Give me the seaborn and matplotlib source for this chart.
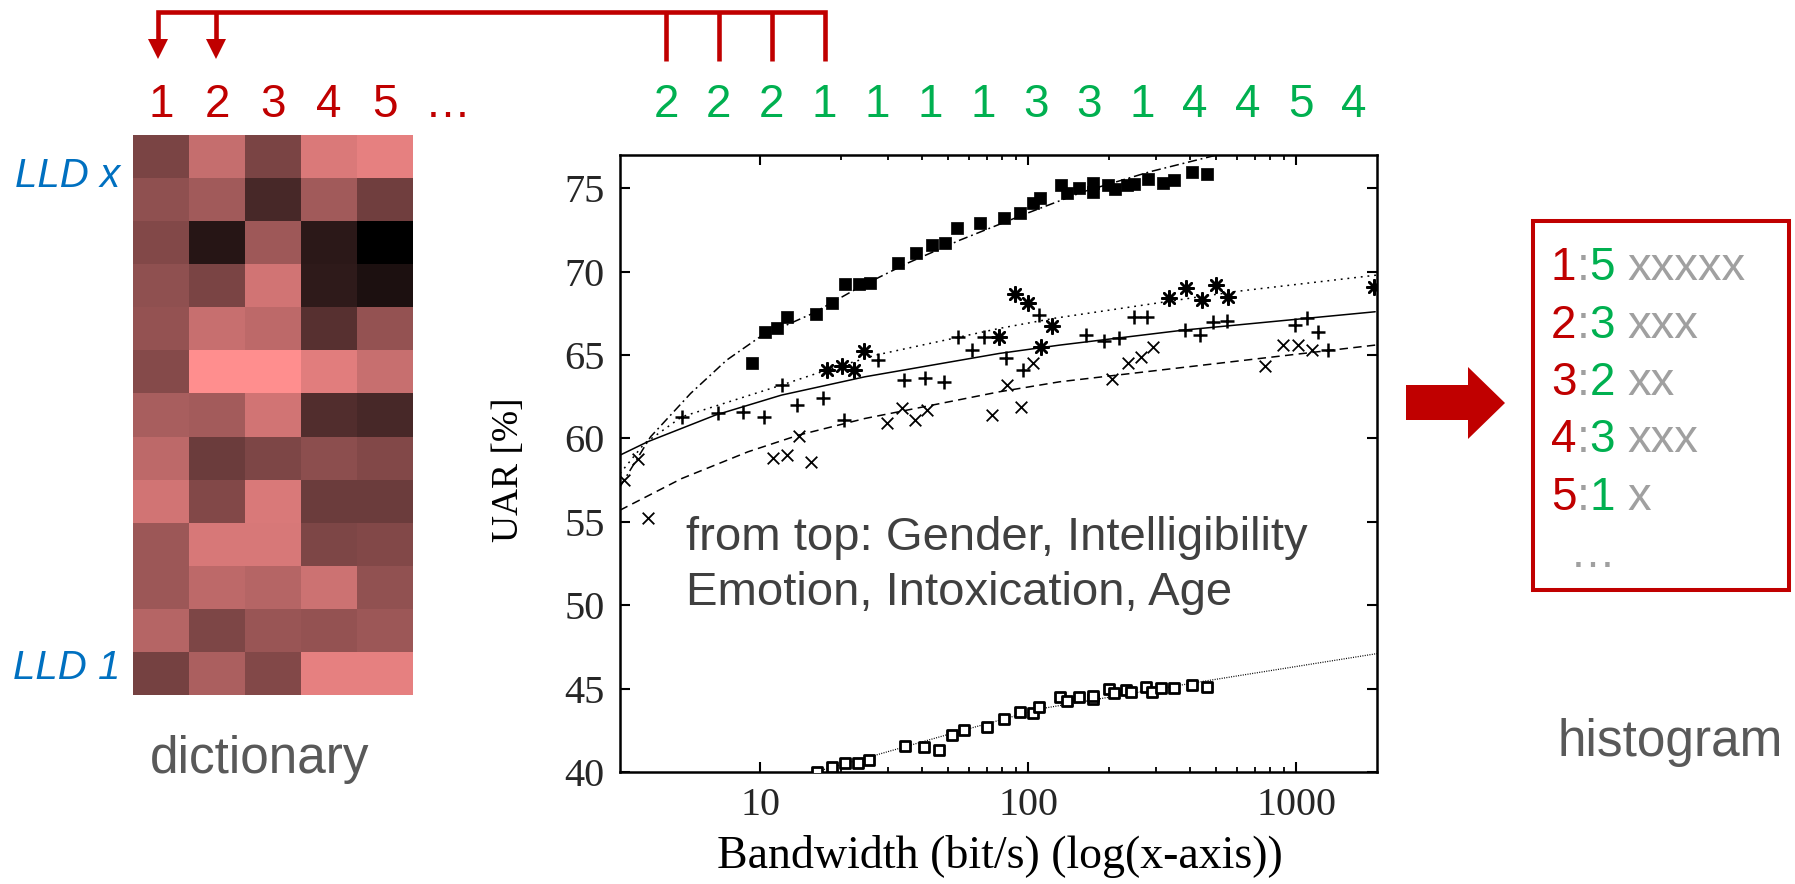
import matplotlib
matplotlib.use("Agg")
import matplotlib.pyplot as plt
import seaborn as sns
import numpy as np
from collections import Counter
from matplotlib.colors import LinearSegmentedColormap
from matplotlib.patches import Polygon, Rectangle
from matplotlib.ticker import FixedLocator, NullFormatter

# ---------------- data ----------------
# dictionary (13 LLD rows x 5 codewords), brightness 0..1
dictionary_values = [
    [0.48, 0.77, 0.48, 0.855, 0.90],
    [0.56, 0.63, 0.28, 0.63, 0.44],
    [0.51, 0.15, 0.62, 0.17, 0.00],
    [0.56, 0.48, 0.82, 0.18, 0.11],
    [0.58, 0.78, 0.74, 0.34, 0.58],
    [0.52, 1.00, 1.00, 0.88, 0.78],
    [0.66, 0.64, 0.82, 0.32, 0.28],
    [0.74, 0.42, 0.49, 0.55, 0.51],
    [0.82, 0.51, 0.85, 0.42, 0.42],
    [0.61, 0.84, 0.84, 0.49, 0.51],
    [0.61, 0.74, 0.71, 0.80, 0.57],
    [0.71, 0.49, 0.60, 0.58, 0.61],
    [0.46, 0.67, 0.51, 0.90, 0.90],
]
dict_labels = ["1", "2", "3", "4", "5", "…"]
code_sequence = [2, 2, 2, 1, 1, 1, 1, 3, 3, 1, 4, 4, 5, 4]
histogram_bins = [1, 2, 3, 4, 5]

gender_x = [9.3, 10.4, 11.6, 12.6, 16.1, 18.5, 20.7, 23.3, 25.6, 32.6, 38.2, 43.7, 49, 54.2, 65.9,
            81.5, 92.9, 104.2, 111, 132.5, 139.6, 155.3, 174.7, 174.7, 198, 210, 233, 248, 280,
            317, 350, 408, 466]
gender_y = [64.5, 66.4, 66.6, 67.3, 67.45, 68.1, 69.25, 69.25, 69.3, 70.5, 71.1, 71.6, 71.7, 72.65,
            72.95, 73.25, 73.55, 74.15, 74.4, 75.2, 74.7, 75.05, 75.35, 74.8, 75.2, 74.95, 75.2,
            75.25, 75.55, 75.35, 75.5, 76.0, 75.85]
gender_fit_x = [3.0, 3.9, 5.5, 7.5, 10, 15.7, 23.6, 35.3, 55.7, 98.8, 160.7, 285, 535]
gender_fit_y = [57.1, 60.1, 62.7, 64.7, 66.1, 67.5, 69.1, 70.5, 71.9, 73.5, 74.8, 76.0, 77.1]

intel_x = [17.7, 20.2, 22.3, 24.4, 78.0, 89.3, 100.2, 111.7, 123, 334, 388, 444, 502, 558, 1950]
intel_y = [64.12, 64.36, 64.12, 65.27, 66.11, 68.67, 68.15, 65.51, 66.75, 68.41, 69.05, 68.31,
           69.18, 68.51, 69.11]
intel_fit_x = [3.0, 3.7, 5.1, 12, 17.7, 27, 78, 124, 584, 2000]
intel_fit_y = [57.9, 59.7, 61.3, 63.2, 64.1, 65.0, 66.6, 67.2, 68.8, 69.8]

emotion_x = [5.1, 6.98, 8.65, 10.34, 12.04, 13.69, 17.1, 20.6, 27.4, 34.4, 41.2, 48.3, 54.9, 61.5,
             68.5, 82.7, 96, 110, 164, 192, 219, 247, 277, 385, 438, 491, 551, 990, 1094, 1210, 1318]
emotion_y = [61.31, 61.55, 61.61, 61.31, 63.22, 62.02, 62.42, 61.12, 64.72, 63.52, 63.62, 63.41,
             66.11, 65.32, 66.11, 64.82, 64.12, 67.41, 66.2, 65.86, 66.0, 67.31, 67.31, 66.51,
             66.2, 66.96, 67.02, 66.81, 67.21, 66.41, 65.32]
emotion_fit_x = [3.0, 3.8, 6.8, 12, 24.6, 78, 131, 380, 1969]
emotion_fit_y = [59.0, 59.8, 61.4, 62.6, 63.7, 65.1, 65.6, 66.5, 67.6]

intox_x = [3.11, 3.49, 3.81, 11.2, 12.6, 13.9, 15.5, 29.7, 33.7, 37.8, 41.8, 73.2, 83.1, 93.8,
           103.9, 205, 235, 263, 293, 765, 891, 1014, 1143]
intox_y = [57.52, 58.76, 55.22, 58.82, 59.02, 60.12, 58.56, 60.92, 61.82, 61.12, 61.72, 61.42,
           63.22, 61.91, 64.55, 63.56, 64.55, 64.91, 65.51, 64.36, 65.62, 65.62, 65.32]
intox_fit_x = [3.0, 5.1, 9.0, 13.9, 24.6, 78, 131, 733, 1969]
intox_fit_y = [55.7, 57.6, 59.2, 60.2, 61.2, 62.8, 63.4, 64.8, 65.6]

age_x = [16.3, 18.5, 20.8, 23.2, 25.5, 34.6, 40.8, 46.6, 52.1, 57.6, 70.2, 80.9, 93.2, 103.8,
         109.9, 131, 139, 155, 174, 175, 200, 209, 231, 242, 275, 289, 314, 349, 407, 463]
age_y = [40.02, 40.32, 40.52, 40.52, 40.72, 41.56, 41.52, 41.32, 42.22, 42.52, 42.72, 43.18,
         43.62, 43.52, 43.92, 44.48, 44.26, 44.52, 44.38, 44.56, 44.98, 44.72, 44.92, 44.82,
         45.08, 44.78, 45.06, 45.06, 45.22, 45.08]
age_fit_x = [16, 25.5, 51.5, 112, 435, 2000]
age_fit_y = [40.0, 40.9, 42.3, 43.8, 45.4, 47.1]

xtick_vals = [10, 100, 1000]
xtick_labels = ["10", "100", "1000"]
xminor_vals = [20, 30, 40, 50, 60, 70, 80, 90, 200, 300, 400, 500, 600, 700, 800, 900]
ytick_vals = [40, 45, 50, 55, 60, 65, 70, 75]

# ---------------- style ----------------
sns.set_style("white")
plt.rcParams['font.family'] = ['Liberation Sans', 'DejaVu Sans']

RED = "#C00000"
GREEN = "#00B050"
BLUE = "#0070C0"
GRAY = "#A0A0A0"
DGRAY = "#595959"
SERIF = ["Liberation Serif", "DejaVu Serif"]

W, H = 1795, 884
fig = plt.figure(figsize=(W / 100, H / 100), dpi=100)


def fr(x0, y0, x1, y1):
    return [x0 / W, 1 - y1 / H, (x1 - x0) / W, (y1 - y0) / H]


# ---------------- dictionary heatmap ----------------
axh = fig.add_axes(fr(133, 135, 413, 695))
cmap = LinearSegmentedColormap.from_list("dict", ["#000000", "#FF8E8E"])
sns.heatmap(np.array(dictionary_values), cmap=cmap, vmin=0, vmax=1, cbar=False,
            xticklabels=False, yticklabels=False, linewidths=0, ax=axh)
axh.tick_params(which="both", length=0)

# ---------------- main chart ----------------
ax = fig.add_axes(fr(620, 155, 1377, 772))
ax.set_xscale("log")
ax.set_xlim(3, 2000)
ax.set_ylim(40, 77)

fit_lw = 1.1
sns.lineplot(x=gender_fit_x, y=gender_fit_y, ax=ax, color="k", lw=fit_lw, sort=False,
             estimator=None, linestyle=(0, (6, 2.5, 1.2, 2.5)), zorder=2)
sns.lineplot(x=intel_fit_x, y=intel_fit_y, ax=ax, color="k", lw=fit_lw, sort=False,
             estimator=None, linestyle=(0, (1.2, 3.2)), zorder=2)
sns.lineplot(x=emotion_fit_x, y=emotion_fit_y, ax=ax, color="k", lw=fit_lw, sort=False,
             estimator=None, linestyle="-", zorder=2)
sns.lineplot(x=intox_fit_x, y=intox_fit_y, ax=ax, color="k", lw=fit_lw, sort=False,
             estimator=None, linestyle=(0, (5.5, 3.5)), zorder=2)
sns.lineplot(x=age_fit_x, y=age_fit_y, ax=ax, color="k", lw=0.9, sort=False,
             estimator=None, linestyle=(0, (0.8, 1.1)), zorder=2)

sns.scatterplot(x=gender_x, y=gender_y, ax=ax, marker="s", color="k", edgecolor="k",
                s=85, linewidth=0.5, zorder=3)
sns.scatterplot(x=intel_x, y=intel_y, ax=ax, marker=(8, 2, 0), color="k",
                s=110, linewidth=1.8, zorder=3)
sns.scatterplot(x=emotion_x, y=emotion_y, ax=ax, marker="+", color="k",
                s=95, linewidth=1.8, zorder=3)
sns.scatterplot(x=intox_x, y=intox_y, ax=ax, marker="x", color="k",
                s=70, linewidth=1.3, zorder=3)
sns.scatterplot(x=age_x, y=age_y, ax=ax, marker="s", facecolor="white", edgecolor="k",
                s=60, linewidth=2.0, zorder=3)

ax.set_xticks(xtick_vals, labels=xtick_labels)
ax.xaxis.set_minor_locator(FixedLocator(xminor_vals))
ax.xaxis.set_minor_formatter(NullFormatter())
ax.set_yticks(ytick_vals, labels=[str(v) for v in ytick_vals])
ax.yaxis.set_minor_locator(FixedLocator([]))
ax.tick_params(which="both", direction="in", top=True, right=True, bottom=True, left=True,
               color="k")
ax.tick_params(which="major", length=7.5, width=1.5, labelsize=29, pad=11)
ax.tick_params(which="minor", length=3.8, width=1.3)
for lbl in ax.get_xticklabels() + ax.get_yticklabels():
    lbl.set_fontfamily(SERIF)
for sp in ax.spines.values():
    sp.set_linewidth(1.8)
    sp.set_color("k")
ax.set_xlabel("")
ax.set_ylabel("")

# ---------------- overlay in pixel coordinates ----------------
ov = fig.add_axes([0, 0, 1, 1], zorder=10)
ov.set_xlim(0, W)
ov.set_ylim(H, 0)
ov.axis("off")
ov.patch.set_alpha(0)

# axis titles
ov.text(509, 470, "UAR [%]", rotation=90, ha="center", va="center", fontsize=27,
        family=SERIF, color="k")
ov.text(1000, 857, "Bandwidth (bit/s) (log(x-axis))", ha="center", va="center",
        fontsize=33, family=SERIF, color="k")

# in-plot annotation
ov.text(686, 550, "from top: Gender, Intelligibility", fontsize=34, color="#404040",
        va="baseline", ha="left")
ov.text(686, 605, "Emotion, Intoxication, Age", fontsize=34, color="#404040",
        va="baseline", ha="left")

# dictionary labels
col_x = [161 + 56 * i for i in range(5)] + [448]
for lab, x in zip(dict_labels, col_x):
    ov.text(x, 117, lab, color=RED, fontsize=33, ha="center", va="baseline")
ov.text(120, 187, "LLD x", color=BLUE, fontsize=29, style="italic", ha="right", va="baseline")
ov.text(120, 679, "LLD 1", color=BLUE, fontsize=29, style="italic", ha="right", va="baseline")
ov.text(260, 773, "dictionary", color=DGRAY, fontsize=37, ha="center", va="baseline")
ov.text(1670, 756, "histogram", color=DGRAY, fontsize=37, ha="center", va="baseline")

# code sequence (green)
seq_x = [666 + 52.9 * i for i in range(len(code_sequence))]
for c, x in zip(code_sequence, seq_x):
    ov.text(x, 117, str(c), color=GREEN, fontsize=33, ha="center", va="baseline")

# bracket with arrows
blw = 3.3
ov.plot([158, 158, seq_x[3], seq_x[3]], [42, 12, 12, 61], color=RED, lw=blw,
        solid_joinstyle="miter", solid_capstyle="butt")
ov.plot([216, 216], [12, 42], color=RED, lw=blw, solid_capstyle="butt")
for x in seq_x[:3]:
    ov.plot([x, x], [12, 61], color=RED, lw=blw, solid_capstyle="butt")
for x in (158, 216):
    ov.add_patch(Polygon([(x - 10, 39), (x + 10, 39), (x, 59)], closed=True, color=RED, lw=0))

# block arrow
ov.add_patch(Polygon([(1406, 385), (1468, 385), (1468, 367), (1505, 403), (1468, 439),
                      (1468, 420), (1406, 420)], closed=True, color=RED, lw=0))

# histogram box
ov.add_patch(Rectangle((1533, 221), 256, 369, fill=False, edgecolor=RED, lw=2.9))
counts = Counter(code_sequence)
for i, b in enumerate(histogram_bins):
    yb = 280 + 57.5 * i
    n = counts[b]
    t = ov.text(1551, yb, str(b), color=RED, fontsize=33, ha="left", va="baseline")
    t = ov.annotate(":", xy=(1, 0), xycoords=t, color=GRAY, fontsize=33, ha="left", va="bottom")
    t = ov.annotate(str(n), xy=(1, 0), xycoords=t, color=GREEN, fontsize=33, ha="left",
                    va="bottom")
    ov.annotate("x" * n, xy=(1, 0), xycoords=t, xytext=(9, 0), textcoords="offset points",
                color=GRAY, fontsize=34, ha="left", va="bottom")
ov.text(1570, 567, "…", color=GRAY, fontsize=33, ha="left", va="baseline")

fig.savefig("out.png", dpi=100)
